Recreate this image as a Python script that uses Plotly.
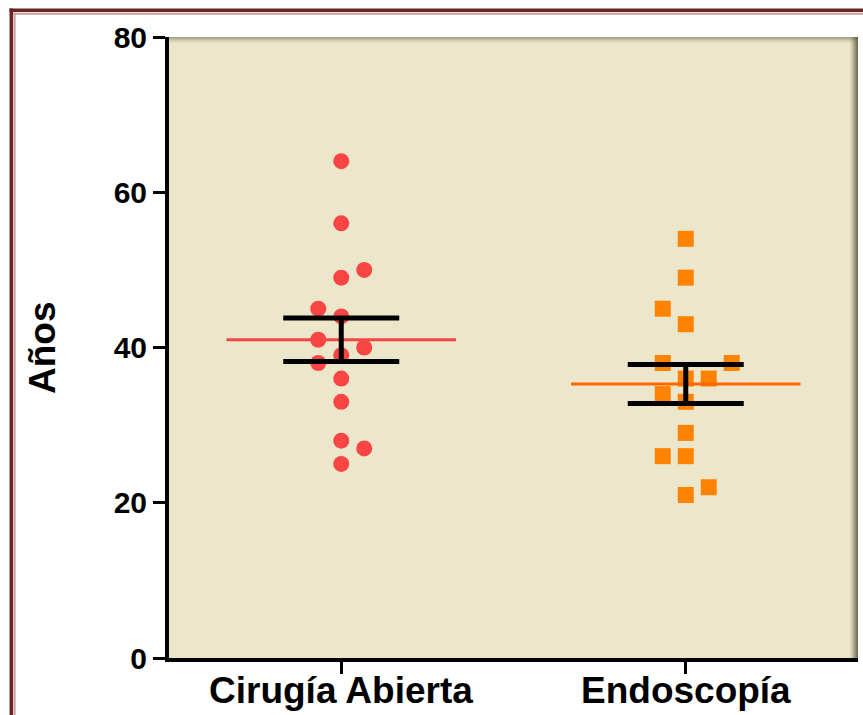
import plotly.graph_objects as go

# --- data ---
groups = ["Cirugía Abierta", "Endoscopía"]

cirugia_anos = [64, 56, 49, 50, 45, 44, 41, 40, 39, 38, 36, 33, 28, 27, 25]
cirugia_slot = [0, 0, 0, 1, -1, 0, -1, 1, 0, -1, 0, 0, 0, 1, 0]

endo_anos = [54, 49, 45, 43, 38, 38, 36, 36, 34, 33, 29, 26, 26, 22, 21]
endo_slot = [0, 0, -1, 0, -1, 2, 0, 1, -1, 0, 0, -1, 0, 1, 0]

means = [41.0, 35.3]
sems = [2.8, 2.5]

y_ticks = [0, 20, 40, 60, 80]

# --- styling ---
FONT = "Arial, Liberation Sans, sans-serif"
BEIGE = "#ece6ca"
RED = "#fa4545"
ORANGE = "#ff8200"
RED_LINE = "#f94444"
ORANGE_LINE = "#ff6600"
FRAME_DARK = "#6b2323"
FRAME_LIGHT = "#c99a9a"

W, H = 863, 715
L, R, T, B = 169, 5, 37, 57
PW, PH = W - L - R, H - T - B
JIT = 0.0667
HALF = 0.333


def px_x(px):
    return (px - L) / PW


def px_y(py):
    return (H - B - py) / PH


fig = go.Figure()

fig.add_trace(go.Scatter(
    x=[0 + s * JIT for s in cirugia_slot], y=cirugia_anos, mode="markers",
    marker=dict(symbol="circle", size=16, color=RED), name=groups[0], showlegend=False,
))
fig.add_trace(go.Scatter(
    x=[1 + s * JIT for s in endo_slot], y=endo_anos, mode="markers",
    marker=dict(symbol="square", size=16, color=ORANGE), name=groups[1], showlegend=False,
))

for i, (m, c) in enumerate(zip(means, [RED_LINE, ORANGE_LINE])):
    fig.add_trace(go.Scatter(
        x=[i - HALF, i + HALF], y=[m, m], mode="lines",
        line=dict(color=c, width=3), showlegend=False, hoverinfo="skip",
    ))

fig.add_trace(go.Scatter(
    x=[0, 1], y=means, mode="markers", marker=dict(opacity=0, size=1),
    error_y=dict(type="data", array=sems, color="black", thickness=5, width=58),
    showlegend=False, hoverinfo="skip",
))

shapes = [
    # beige plot panel
    dict(type="rect", xref="paper", yref="paper", x0=0, x1=1, y0=0, y1=1,
         fillcolor=BEIGE, line_width=0, layer="below"),
]
# soft inner shadow on the right and top edges of the panel
for k, op in enumerate([0.10, 0.16, 0.24, 0.34, 0.46]):
    shapes.append(dict(type="rect", xref="paper", yref="paper",
                       x0=px_x(850 + k * 1.6), x1=px_x(858), y0=0, y1=px_y(37),
                       fillcolor=f"rgba(90,85,60,{op})", line_width=0, layer="below"))
for k, op in enumerate([0.06, 0.10, 0.16, 0.24]):
    shapes.append(dict(type="rect", xref="paper", yref="paper",
                       x0=0, x1=px_x(858), y0=px_y(43 - k * 1.5), y1=px_y(37),
                       fillcolor=f"rgba(90,85,60,{op})", line_width=0, layer="below"))
# outer frame (top and left visible)
shapes += [
    dict(type="line", xref="paper", yref="paper", x0=px_x(9.5), x1=px_x(880),
         y0=px_y(10.2), y1=px_y(10.2), line=dict(color=FRAME_DARK, width=3.5)),
    dict(type="line", xref="paper", yref="paper", x0=px_x(13.5), x1=px_x(880),
         y0=px_y(13.8), y1=px_y(13.8), line=dict(color=FRAME_LIGHT, width=2)),
    dict(type="line", xref="paper", yref="paper", x0=px_x(11.3), x1=px_x(11.3),
         y0=px_y(8.5), y1=px_y(740), line=dict(color=FRAME_DARK, width=3.5)),
    dict(type="line", xref="paper", yref="paper", x0=px_x(14.6), x1=px_x(14.6),
         y0=px_y(12.8), y1=px_y(740), line=dict(color=FRAME_LIGHT, width=2)),
]

label_font = dict(family=FONT, size=37, color="black", weight="bold")
annotations = [dict(
    text="Años", xref="paper", yref="paper", x=px_x(42.5), y=0.5,
    xanchor="center", yanchor="middle", textangle=-90, showarrow=False,
    font=label_font,
)]
# category labels drawn as annotations so they sit tight under the ticks
for i, g in enumerate(groups):
    annotations.append(dict(
        text=g, xref="x", yref="paper", x=i, y=px_y(690),
        xanchor="center", yanchor="middle", showarrow=False, font=label_font,
    ))

fig.update_layout(
    width=W, height=H,
    margin=dict(l=L, r=R, t=T, b=B, pad=0),
    paper_bgcolor="white",
    plot_bgcolor="rgba(0,0,0,0)",
    font=dict(family=FONT, color="black"),
    shapes=shapes,
    annotations=annotations,
)
fig.update_xaxes(
    range=[-0.5, 1.5], tickvals=[0, 1], showticklabels=False,
    showgrid=False, zeroline=False, automargin=False,
    showline=True, linecolor="black", linewidth=4,
    ticks="outside", ticklen=12, tickwidth=3, tickcolor="black",
)
fig.update_yaxes(
    range=[0, 80], tickvals=y_ticks,
    showgrid=False, zeroline=False, automargin=False,
    showline=True, linecolor="black", linewidth=4,
    ticks="outside", ticklen=12, tickwidth=3, tickcolor="black",
    tickfont=dict(family=FONT, size=30, color="black", weight="bold"),
)

# drop the browser's default body margin so the figure sits at the window origin
fig.write_html(
    "out.html",
    config={"displayModeBar": False},
    post_script="document.body.style.margin='0px';",
)
